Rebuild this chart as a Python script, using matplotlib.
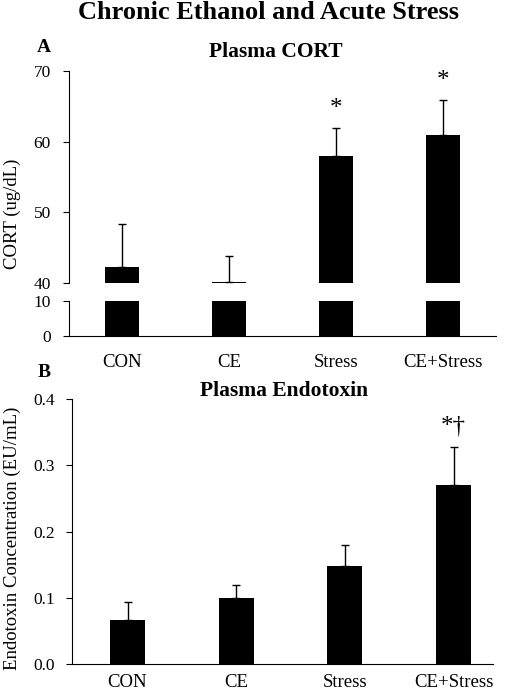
import matplotlib
matplotlib.use('Agg')
import matplotlib.pyplot as plt

categories = ['CON', 'CE', 'Stress', 'CE+Stress']
cort_mean = [42.2, 40.15, 58.0, 60.9]
cort_sem = [6.1, 3.65, 3.9, 5.0]
cort_sig = ['', '', '*', '*']
endo_mean = [0.066, 0.100, 0.148, 0.270]
endo_sem = [0.027, 0.020, 0.031, 0.057]
endo_sig = ['', '', '', '*\u2020']

plt.rcParams['font.family'] = ['Liberation Serif', 'DejaVu Serif']
plt.rcParams['axes.linewidth'] = 0.8

W, H = 508, 693
fig = plt.figure(figsize=(W / 100, H / 100), dpi=100)


def ax_px(l, t, r, b):
    return fig.add_axes([l / W, 1 - b / H, (r - l) / W, (b - t) / H])


def fx(x):
    return x / W


def fy(y):
    return 1 - y / H


x = list(range(len(categories)))
bw = 0.32
tick_kw = dict(direction='out', length=4, width=0.8, labelsize=12.5, pad=9)

# Panel A upper (40-70)
axu = ax_px(69, 71, 496, 283)
axu.bar(x, cort_mean, width=bw, color='black')
axu.errorbar(x, cort_mean, yerr=[[0] * 4, cort_sem], fmt='none', ecolor='black',
             elinewidth=1.0, capsize=3, capthick=1.0)
axu.set_ylim(40, 70)
axu.set_xlim(-0.5, 3.5)
axu.set_yticks([40, 50, 60, 70])
axu.set_xticks([])
for s in ['top', 'right', 'bottom']:
    axu.spines[s].set_visible(False)
axu.tick_params(axis='y', **tick_kw)
for xi, m, e, s in zip(x, cort_mean, cort_sem, cort_sig):
    if s:
        axu.annotate(s, (xi, m + e), xytext=(0, 9.5), textcoords='offset points',
                     ha='center', va='baseline', fontsize=18, annotation_clip=False)

# Panel A lower (0-10)
axl = ax_px(69, 301, 496, 336)
axl.bar(x, cort_mean, width=bw, color='black')
axl.set_ylim(0, 10)
axl.set_xlim(-0.5, 3.5)
axl.set_yticks([0, 10])
axl.set_xticks(x)
axl.set_xticklabels(categories)
for s in ['top', 'right']:
    axl.spines[s].set_visible(False)
axl.tick_params(axis='y', **tick_kw)
axl.tick_params(axis='x', length=0, labelsize=13.5, pad=13)

# Panel B
axb = ax_px(72, 399, 493, 664)
axb.bar(x, endo_mean, width=bw, color='black')
axb.errorbar(x, endo_mean, yerr=[[0] * 4, endo_sem], fmt='none', ecolor='black',
             elinewidth=1.0, capsize=3, capthick=1.0)
axb.set_ylim(0, 0.4)
axb.set_xlim(-0.511, 3.363)
axb.set_yticks([0.0, 0.1, 0.2, 0.3, 0.4])
axb.set_yticklabels(['0.0', '0.1', '0.2', '0.3', '0.4'])
axb.set_xticks(x)
axb.set_xticklabels(categories)
for s in ['top', 'right']:
    axb.spines[s].set_visible(False)
axb.tick_params(axis='y', direction='out', length=4, width=0.8, labelsize=12.5, pad=8)
axb.tick_params(axis='x', length=0, labelsize=13.5, pad=7)
for xi, m, e, s in zip(x, endo_mean, endo_sem, endo_sig):
    if s:
        axb.annotate(s, (xi, m + e), xytext=(0, 11), textcoords='offset points',
                     ha='center', va='baseline', fontsize=18, annotation_clip=False)

# Titles and labels
fig.text(fx(269), fy(19), 'Chronic Ethanol and Acute Stress', ha='center', va='baseline',
         fontsize=19, fontweight='bold')
fig.text(fx(44), fy(52), 'A', ha='center', va='baseline', fontsize=14, fontweight='bold')
fig.text(fx(276), fy(57), 'Plasma CORT', ha='center', va='baseline', fontsize=15.5, fontweight='bold')
fig.text(fx(44), fy(377), 'B', ha='center', va='baseline', fontsize=14, fontweight='bold')
fig.text(fx(284), fy(396), 'Plasma Endotoxin', ha='center', va='baseline', fontsize=15.5, fontweight='bold')
fig.text(fx(12), fy(214), 'CORT (ug/dL)', ha='center', va='center', rotation=90, fontsize=13.5)
fig.text(fx(12), fy(538), 'Endotoxin Concentration (EU/mL)', ha='center', va='center',
         rotation=90, fontsize=13.5)

fig.savefig('out.png', dpi=100)
